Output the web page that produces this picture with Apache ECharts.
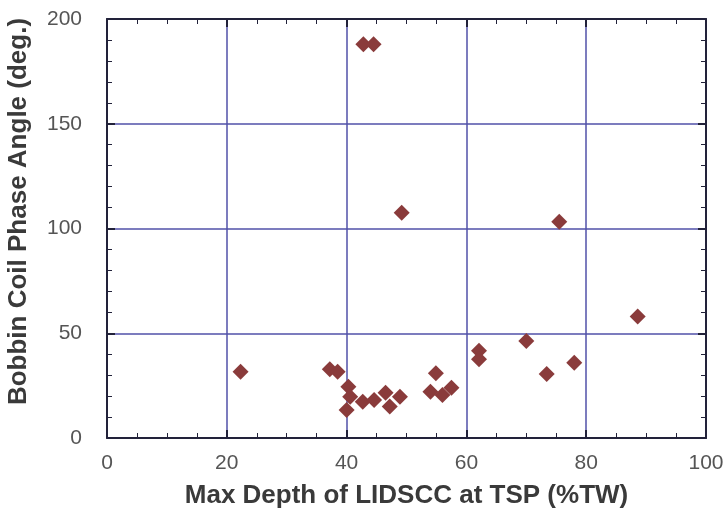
<!DOCTYPE html>
<html><head><meta charset="utf-8">
<script src="https://cdn.jsdelivr.net/npm/echarts@6/dist/echarts.min.js"></script>
<style>html,body{margin:0;padding:0;background:#fff}#c{width:723px;height:515px}</style>
</head><body><div id="c"></div>
<script>
const depthX = [22.3, 37.2, 38.5, 40.3, 40.6, 40.0, 42.7, 44.6, 46.5, 47.2, 48.9, 42.8, 44.5, 49.2, 75.5, 88.6, 70.0, 62.1, 62.1, 78.0, 73.4, 54.9, 54.0, 56.0, 57.5];
const phaseY = [31.6, 32.8, 31.6, 24.5, 19.7, 13.4, 17.3, 18.1, 21.6, 15.0, 19.7, 188, 188, 107.5, 103.2, 58.0, 46.3, 41.7, 37.6, 35.9, 30.5, 30.9, 22.1, 20.5, 24.0];
const xTicks = [0, 20, 40, 60, 80, 100];
const yTicks = [0, 50, 100, 150, 200];
const xTitle = 'Max Depth of LIDSCC at TSP (%TW)';
const yTitle = 'Bobbin Coil Phase Angle (deg.)';

const points = depthX.map((x, i) => [x, phaseY[i]]);
const gridColor = '#5050a8';
const frameColor = '#22223a';
const labelStyle = {color: '#555', fontSize: 21, fontFamily: 'Liberation Sans, Arial, sans-serif'};
const nameStyle = {color: '#3a3a3a', fontSize: 26, fontWeight: 'bold', fontFamily: 'Liberation Sans, Arial, sans-serif'};

function frameAxis(pos, min, max, interval, minorSplit) {
  return {
    type: 'value', position: pos, min: min, max: max, interval: interval,
    axisLine: {show: true, onZero: false, lineStyle: {color: frameColor, width: 2}},
    axisTick: {show: true, inside: true, length: 8, lineStyle: {color: frameColor, width: 2}},
    minorTick: {show: true, splitNumber: minorSplit, length: 5, lineStyle: {color: frameColor, width: 1}},
    axisLabel: {show: false}, splitLine: {show: false}
  };
}

const chart = echarts.init(document.getElementById('c'));
chart.setOption({
  animation: false,
  grid: {left: 107, right: 17, top: 19, bottom: 77, containLabel: false, outerBoundsMode: 'none'},
  xAxis: [{
    type: 'value', position: 'bottom', min: xTicks[0], max: xTicks[xTicks.length - 1], interval: 20,
    name: xTitle, nameLocation: 'middle', nameGap: 45, nameTextStyle: nameStyle,
    axisLine: {show: true, onZero: false, lineStyle: {color: frameColor, width: 2}},
    axisTick: {show: true, inside: true, length: 8, lineStyle: {color: frameColor, width: 2}},
    minorTick: {show: true, splitNumber: 4, length: 5, lineStyle: {color: frameColor, width: 1}},
    axisLabel: Object.assign({margin: 15}, labelStyle),
    splitLine: {show: true, lineStyle: {color: gridColor, width: 1.5}}
  }, frameAxis('top', 0, 100, 20, 4)],
  yAxis: [{
    type: 'value', position: 'left', min: yTicks[0], max: yTicks[yTicks.length - 1], interval: 50,
    name: yTitle, nameLocation: 'middle', nameGap: 75,
    nameTextStyle: Object.assign({padding: [0, 0, 0, 34]}, nameStyle),
    axisLine: {show: true, onZero: false, lineStyle: {color: frameColor, width: 2}},
    axisTick: {show: true, inside: true, length: 8, lineStyle: {color: frameColor, width: 2}},
    minorTick: {show: true, splitNumber: 5, length: 5, lineStyle: {color: frameColor, width: 1}},
    axisLabel: Object.assign({margin: 25}, labelStyle),
    splitLine: {show: true, lineStyle: {color: gridColor, width: 1.5}}
  }, frameAxis('right', 0, 200, 50, 5)],
  series: [{
    type: 'scatter', xAxisIndex: 0, yAxisIndex: 0,
    data: points, symbol: 'diamond', symbolSize: 16,
    itemStyle: {color: '#8a3b3b', opacity: 1}
  }]
});
</script></body></html>
